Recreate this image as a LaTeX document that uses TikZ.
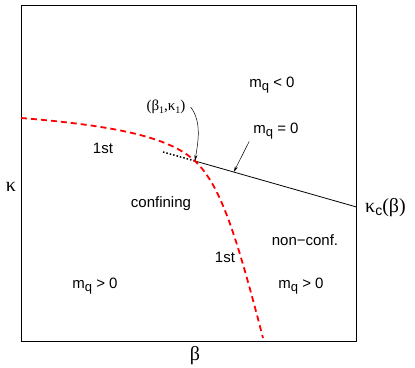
\documentclass[tikz,border=0pt]{standalone}
\usepackage{fontspec}
\setmainfont{Liberation Sans}
\newfontfamily\grk{Liberation Serif}
\usetikzlibrary{arrows.meta,calc}
\newcommand{\mq}{m\raisebox{-3.5pt}{\fontsize{13}{13}\selectfont q}}
\newcommand{\lowsub}[1]{\raisebox{-2.5pt}{\fontsize{10}{10}\selectfont #1}}

\begin{document}
\begin{tikzpicture}[x=1pt,y=-1pt,
    region/.style={font=\fontsize{15}{18}\selectfont, anchor=base, inner sep=0pt},
    greek/.style={font=\grk\fontsize{20}{22}\selectfont, anchor=base, inner sep=0pt},
    firstorder/.style={draw=red, dash pattern=on 6pt off 4pt, line width=1.8pt},
    pointer/.style={-{Stealth[length=6pt,width=3pt]}, line width=0.5pt},
]
\useasboundingbox (0,0) rectangle (415,367);
\draw[line width=0.9pt] (21,5.5) rectangle (356.5,341);

% special points
\coordinate (tri) at (195,161);
\coordinate (edge) at (356.5,207);
\coordinate (hit) at ($(tri)!0.24!(edge)$);

% phase boundaries
\draw[line width=0.8pt] (tri) -- (edge);
\draw[dotted, line width=1.5pt] (163,152) -- (tri);
\draw[firstorder] (21,118) .. controls (120,126) and (170,138) .. (tri)
    .. controls (220,185) and (235,230) .. (263,338);

% labels
\node[region] (mneg) at (272,87) {\mq{} < 0};
\node[region] (mzero) at (276,133) {\mq{} = 0};
\node[font=\grk\fontsize{15}{17}\selectfont, inner sep=0pt] (trilbl) at (166,107) {(β\lowsub{1},κ\lowsub{1})};
\node[region] (upfirst) at (103,153) {1st};
\node[region] (conf) at (161,207) {confining};
\node[region] (nonconf) at (305,245) {non−conf.};
\node[region] (lowfirst) at (225,262) {1st};
\node[region] (mposl) at (95,288) {\mq{} > 0};
\node[region] (mposr) at (301,288) {\mq{} > 0};
\node[greek] (kappa) at (11,191) {κ};
\node[greek] (beta) at (195,360) {β};
\node[greek, anchor=base west] (kc) at (365,212) {κ\raisebox{-3.5pt}{\rmfamily\fontsize{14}{14}\selectfont c}(β)};

% pointers
\draw[pointer] ([xshift=5pt]trilbl.east) .. controls (202,122) and (198,142) .. (tri);
\draw[pointer] ([xshift=-4pt,yshift=-2pt]mzero.south west) -- (hit);
\end{tikzpicture}
\end{document}
